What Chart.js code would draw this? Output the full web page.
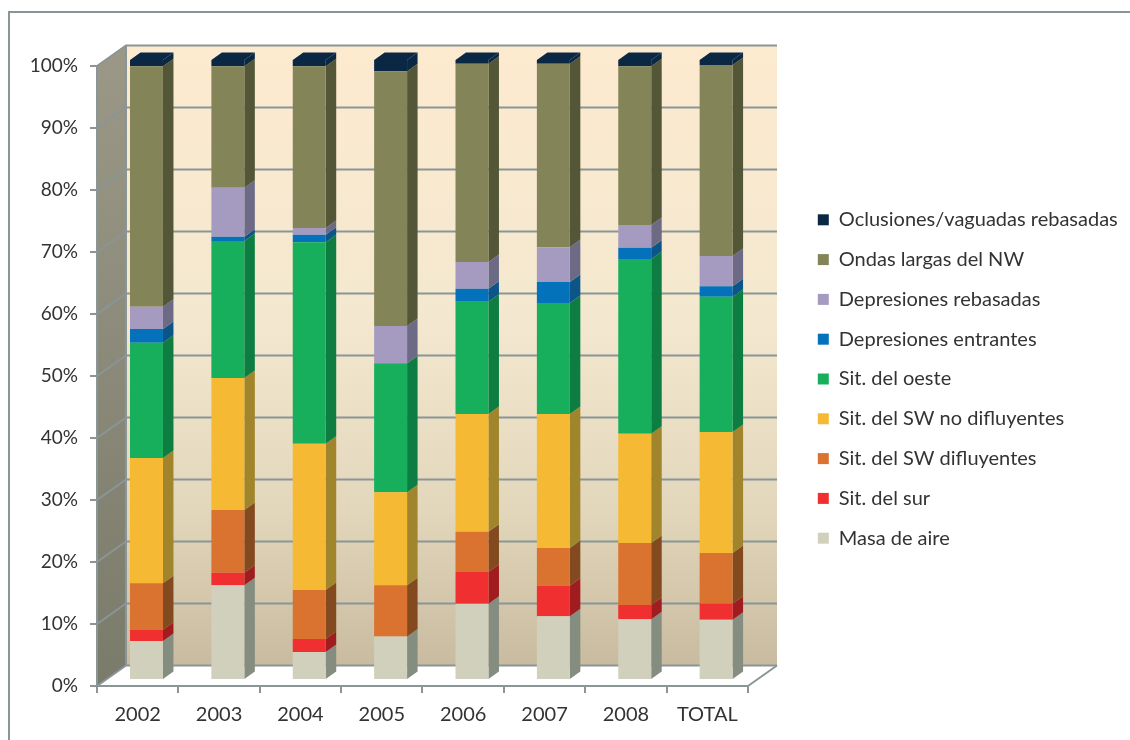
<!DOCTYPE html>
<html>
<head>
<meta charset="utf-8">
<title>Situaciones sinópticas</title>
<script src="https://cdn.jsdelivr.net/npm/chart.js@4"></script>
<style>
  html, body { margin: 0; padding: 0; background: #fff; }
  canvas { display: block; }
</style>
</head>
<body>
<canvas id="chart" width="1130" height="740"></canvas>
<script>
// categories and tick labels
const years = ["2002", "2003", "2004", "2005", "2006", "2007", "2008", "TOTAL"];
const yTicks = [0, 10, 20, 30, 40, 50, 60, 70, 80, 90, 100];

// series values, % of each column
const masaDeAire = [6.3, 15.3, 4.5, 7.0, 12.3, 10.3, 9.8, 9.7];
const sitSur = [1.8, 2.0, 2.1, 0, 5.1, 4.9, 2.3, 2.6];
const swDifluyentes = [7.5, 10.1, 7.9, 8.3, 6.5, 6.1, 10.0, 8.2];
const swNoDifluyentes = [20.2, 21.3, 23.6, 15.0, 19.0, 21.6, 17.6, 19.5];
const sitOeste = [18.6, 22.1, 32.5, 20.8, 18.1, 17.9, 28.2, 21.8];
const depEntrantes = [2.2, 0.7, 1.2, 0, 2.1, 3.4, 1.8, 1.7];
const depRebasadas = [3.6, 7.9, 1.1, 6.0, 4.3, 5.6, 3.7, 4.9];
const ondasLargas = [38.8, 19.6, 26.1, 41.1, 32.0, 29.6, 25.6, 30.8];
const oclusiones = [1.0, 1.0, 1.0, 1.8, 0.6, 0.6, 1.0, 0.8];

const seriesNames = ["Masa de aire", "Sit. del sur", "Sit. del SW difluyentes", "Sit. del SW no difluyentes",
  "Sit. del oeste", "Depresiones entrantes", "Depresiones rebasadas", "Ondas largas del NW", "Oclusiones/vaguadas rebasadas"];
const seriesValues = [masaDeAire, sitSur, swDifluyentes, swNoDifluyentes, sitOeste, depEntrantes, depRebasadas, ondasLargas, oclusiones];
const frontColors = ["#d1d0bc", "#f03030", "#da7230", "#f6b933", "#17ae5c", "#0472ba", "#a59bc0", "#838558", "#0a2744"];
const sideColors = ["#848d80", "#a01c1f", "#824a1e", "#a0852c", "#0e7d42", "#0b5588", "#6c6a85", "#535738", "#0a2744"];

const axisColor = "#8a9597";
const textColor = "#333333";
const fontFamily = "Lato, 'Open Sans', sans-serif";

// 3D look: the back wall and the bars sit behind the axis plane
const wallDx = 29, wallDy = -20.5;
const barDx = 8.8, barDy = -6;
const sideDx = 10.5, sideDy = -7.5;

const wallsPlugin = {
  id: "walls",
  beforeDraw(chart) {
    const { ctx, chartArea: a, scales } = chart;
    ctx.save();

    // outer frame
    ctx.strokeStyle = axisColor;
    ctx.lineWidth = 2;
    ctx.beginPath();
    ctx.moveTo(9, 740);
    ctx.lineTo(9, 12);
    ctx.lineTo(1130, 12);
    ctx.stroke();

    // back wall
    const back = ctx.createLinearGradient(0, a.top + wallDy, 0, a.bottom + wallDy);
    back.addColorStop(0, "#fdeacf");
    back.addColorStop(0.45, "#f3e8cf");
    back.addColorStop(0.75, "#e2d6bb");
    back.addColorStop(1, "#c9bb9f");
    ctx.fillStyle = back;
    ctx.fillRect(a.left + wallDx, a.top + wallDy, a.width, a.height);

    // side wall
    const side = ctx.createLinearGradient(0, a.top, 0, a.bottom);
    side.addColorStop(0, "#9a9786");
    side.addColorStop(1, "#7b7b6b");
    ctx.fillStyle = side;
    ctx.beginPath();
    ctx.moveTo(a.left, a.top);
    ctx.lineTo(a.left + wallDx, a.top + wallDy);
    ctx.lineTo(a.left + wallDx, a.bottom + wallDy);
    ctx.lineTo(a.left, a.bottom);
    ctx.closePath();
    ctx.fill();

    // grid lines, wall and back
    ctx.strokeStyle = axisColor;
    ctx.lineWidth = 2;
    yTicks.forEach((t) => {
      const y = scales.y.getPixelForValue(t);
      ctx.beginPath();
      ctx.moveTo(a.left, y);
      ctx.lineTo(a.left + wallDx, y + wallDy);
      ctx.lineTo(a.right + wallDx, y + wallDy);
      ctx.stroke();
    });

    // floor edge and back corner
    ctx.beginPath();
    ctx.moveTo(a.right, a.bottom);
    ctx.lineTo(a.right + wallDx, a.bottom + wallDy);
    ctx.moveTo(a.left + wallDx, a.top + wallDy);
    ctx.lineTo(a.left + wallDx, a.bottom + wallDy);
    ctx.stroke();
    ctx.restore();

    // legend sits away from the plot, its box is moved after layout
    const legend = chart.legend;
    legend.left = 798;
    legend.right = 1130;
    legend.top = 190;
    legend.bottom = 740;
  },
  beforeDatasetsDraw(chart) {
    const { ctx } = chart;
    ctx.save();
    ctx.translate(barDx, barDy);
    chart.data.datasets.forEach((ds, i) => {
      chart.getDatasetMeta(i).data.forEach((bar) => {
        const { x, y, base, width } = bar.getProps(["x", "y", "base", "width"], true);
        if (base - y < 0.5) return;
        const r = x + width / 2;
        ctx.fillStyle = sideColors[i];
        ctx.beginPath();
        ctx.moveTo(r, base);
        ctx.lineTo(r + sideDx, base + sideDy);
        ctx.lineTo(r + sideDx, y + sideDy);
        ctx.lineTo(r, y);
        ctx.closePath();
        ctx.fill();
      });
    });
    // top face of each column
    const last = chart.data.datasets.length - 1;
    chart.getDatasetMeta(last).data.forEach((bar) => {
      const { x, y, width } = bar.getProps(["x", "y", "width"], true);
      ctx.fillStyle = frontColors[last];
      ctx.beginPath();
      ctx.moveTo(x - width / 2, y);
      ctx.lineTo(x - width / 2 + sideDx, y + sideDy);
      ctx.lineTo(x + width / 2 + sideDx, y + sideDy);
      ctx.lineTo(x + width / 2, y);
      ctx.closePath();
      ctx.fill();
    });
  },
  afterDatasetsDraw(chart) {
    chart.ctx.restore();
  }
};

new Chart(document.getElementById("chart"), {
  type: "bar",
  plugins: [wallsPlugin],
  data: {
    labels: years,
    datasets: seriesNames.map((name, i) => ({
      label: name,
      data: seriesValues[i],
      backgroundColor: frontColors[i],
      borderWidth: 0,
      barPercentage: 0.405,
      categoryPercentage: 1,
      clip: false
    }))
  },
  options: {
    responsive: false,
    animation: false,
    layout: { padding: { top: 66, left: 0, right: 132.67, bottom: 0 } },
    plugins: {
      tooltip: { enabled: false },
      title: { display: false },
      legend: {
        position: "right",
        align: "start",
        reverse: true,
        labels: {
          boxWidth: 11,
          boxHeight: 11,
          padding: 19.8,
          color: textColor,
          font: { family: fontFamily, size: 20 }
        }
      }
    },
    scales: {
      x: {
        stacked: true,
        afterFit(scale) { scale.height = 54; },
        grid: { drawOnChartArea: false, color: axisColor, lineWidth: 2, tickLength: 7, offset: true },
        border: { color: axisColor, width: 2 },
        ticks: { color: textColor, padding: 10, maxRotation: 0, font: { family: fontFamily, size: 20 } }
      },
      y: {
        stacked: true,
        min: 0,
        max: 100,
        afterFit(scale) { scale.width = 97; },
        afterBuildTicks(scale) { scale.ticks = yTicks.map((v) => ({ value: v })); },
        grid: { drawOnChartArea: false, color: axisColor, lineWidth: 2, tickLength: 7 },
        border: { color: axisColor, width: 2 },
        ticks: {
          color: textColor,
          padding: 12,
          font: { family: fontFamily, size: 19 },
          callback: (v) => v + "%"
        }
      }
    }
  }
});
</script>
</body>
</html>
